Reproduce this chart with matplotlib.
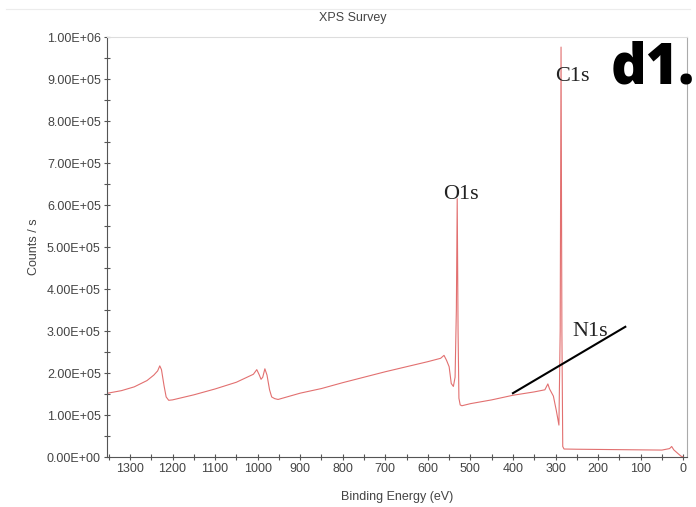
import matplotlib
matplotlib.use("Agg")
import matplotlib.pyplot as plt
from matplotlib.ticker import MultipleLocator, FuncFormatter
from matplotlib.lines import Line2D

# Binding energy (eV) and counts per second
binding_energy = [1352, 1320, 1290, 1260, 1244, 1235, 1230, 1226, 1220, 1215, 1209, 1200,
                  1150, 1100, 1050, 1010, 1002, 996, 992, 988, 983, 978, 972, 967, 960, 952,
                  900, 850, 800, 750, 700, 650, 600, 570, 562, 556, 550, 545, 540, 536, 533,
                  531, 529, 527, 524, 520, 500, 450, 400, 350, 325, 318, 314, 305, 298, 292,
                  289, 287, 285, 283, 280, 250, 200, 100, 50, 32, 27, 22, 12, 5, 0]
counts = [1.52e5, 1.58e5, 1.67e5, 1.82e5, 1.95e5, 2.05e5, 2.17e5, 2.08e5, 1.70e5, 1.43e5, 1.35e5, 1.36e5,
          1.48e5, 1.62e5, 1.78e5, 1.97e5, 2.08e5, 1.95e5, 1.85e5, 1.90e5, 2.10e5, 1.95e5, 1.60e5, 1.43e5, 1.39e5, 1.37e5,
          1.52e5, 1.63e5, 1.77e5, 1.90e5, 2.03e5, 2.15e5, 2.27e5, 2.35e5, 2.42e5, 2.30e5, 2.15e5, 1.75e5, 1.68e5, 1.90e5, 3.5e5,
          6.15e5, 3.0e5, 1.40e5, 1.24e5, 1.22e5, 1.27e5, 1.36e5, 1.47e5, 1.55e5, 1.60e5, 1.74e5, 1.62e5, 1.45e5, 1.10e5, 0.76e5,
          3.0e5, 9.76e5, 3.0e5, 0.25e5, 0.19e5, 0.185e5, 0.18e5, 0.17e5, 0.165e5, 0.20e5, 0.25e5, 0.17e5, 0.08e5, 0.02e5, 0.0]

peak_labels = ["O1s", "C1s", "N1s"]
peak_label_x = [522, 261, 219]
peak_label_y = [6.26e5, 9.05e5, 3.0e5]
n1s_pointer_x = [400, 136]
n1s_pointer_y = [1.52e5, 3.1e5]

title = "XPS Survey"
xlabel = "Binding Energy (eV)"
ylabel = "Counts / s"
panel_tag = "d1."

fig = plt.figure(figsize=(6.96, 5.07), dpi=100)
ax = fig.add_axes([107/696, 1-457/507, (687-107)/696, (457-37)/507])

ax.plot(binding_energy, counts, color="#e27070", lw=0.8)
ax.set_xlim(1354, -9)
ax.set_ylim(0, 1.0e6)

txtc = "#444444"
ax.xaxis.set_major_locator(MultipleLocator(100))
ax.xaxis.set_minor_locator(MultipleLocator(50))
ax.yaxis.set_major_locator(MultipleLocator(1e5))
ax.yaxis.set_minor_locator(MultipleLocator(5e4))
ax.yaxis.set_major_formatter(FuncFormatter(lambda v, p: f"{v:.2E}"))
ax.tick_params(which="both", direction="inout", color="#555555", width=0.8,
               labelsize=9, labelcolor=txtc)
ax.tick_params(which="major", length=5, pad=2)
ax.tick_params(which="minor", length=4)
for lab in ax.get_xticklabels() + ax.get_yticklabels():
    lab.set_fontfamily("Liberation Sans")

ax.spines["left"].set_color("#555555")
ax.spines["bottom"].set_color("#555555")
ax.spines["top"].set_color("#dddddd")
ax.spines["right"].set_color("#aaaaaa")

ax.set_xlabel(xlabel, fontsize=9, color=txtc, family="Liberation Sans", labelpad=11)
ax.set_ylabel(ylabel, fontsize=9, color=txtc, family="Liberation Sans", labelpad=5)

for t, x, y in zip(peak_labels, peak_label_x, peak_label_y):
    ax.text(x, y, t, ha="center", va="center", fontsize=16,
            family="Liberation Serif", color="#222222")
ax.plot(n1s_pointer_x, n1s_pointer_y, color="black", lw=1.5)

fig.text(353/696, 1-18/507, title, ha="center", va="center", fontsize=9,
         family="Liberation Sans", color=txtc)
fig.lines.append(Line2D([6/696, 690/696], [1-9/507, 1-9/507], transform=fig.transFigure,
                        color="#ececec", lw=0.8))
fig.text(611/696, 1-84/507, panel_tag, ha="left", va="baseline", fontsize=40,
         fontweight="heavy", family="Open Sans", color="black")

fig.savefig("out.png", dpi=100)
